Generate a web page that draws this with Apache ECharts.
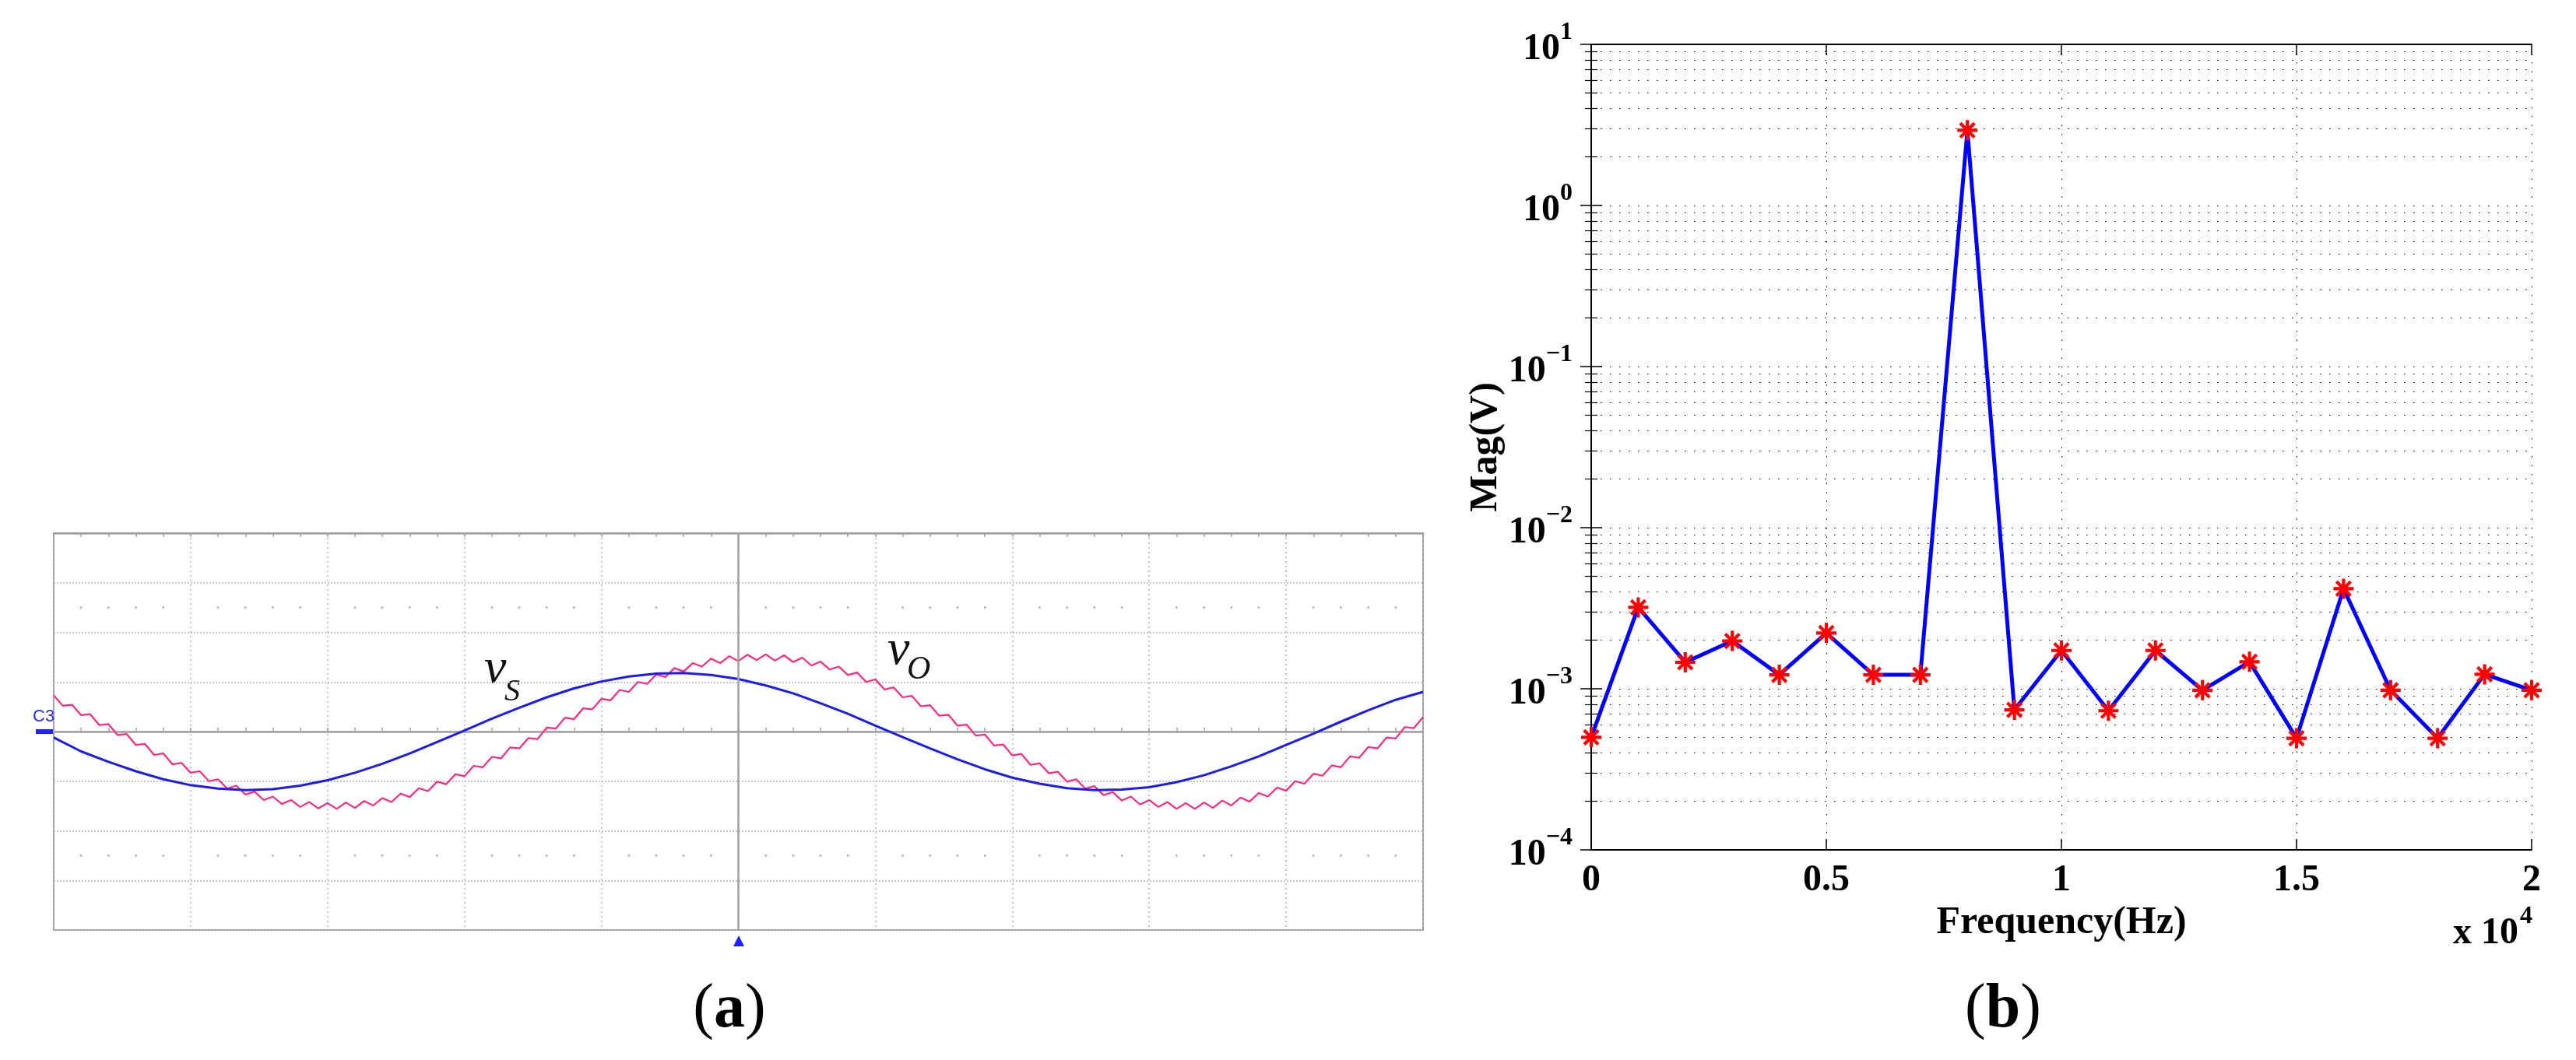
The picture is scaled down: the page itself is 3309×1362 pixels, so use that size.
<!DOCTYPE html>
<html>
<head>
<meta charset="utf-8">
<script src="https://cdn.jsdelivr.net/npm/echarts@6/dist/echarts.min.js"></script>
<style>
  html, body { margin: 0; padding: 0; background: #fff; }
  #main { width: 3309px; height: 1362px; }
</style>
</head>
<body>
<div id="main"></div>
<script>
// (a) oscilloscope traces, in divisions (time step in div)
const vsStep = 0.2;
const vsData = [-0.12,-0.40,-0.61,-0.80,-0.96,-1.08,-1.15,-1.18,-1.16,-1.09,-0.98,-0.83,-0.65,-0.44,-0.21,0.02,
  0.26,0.48,0.69,0.87,1.01,1.11,1.17,1.18,1.14,1.06,0.93,0.77,0.57,0.36,0.12,-0.11,-0.34,-0.56,-0.76,-0.93,
  -1.05,-1.14,-1.18,-1.17,-1.12,-1.02,-0.88,-0.70,-0.50,-0.27,-0.04,0.20,0.43,0.64,0.80];

const voStep = 1 / 15;
const voData = [0.73,0.52,0.54,0.33,0.35,0.13,0.15,-0.07,-0.05,-0.27,-0.25,-0.47,-0.44,-0.66,-0.63,-0.83,
  -0.80,-1.00,-0.96,-1.15,-1.09,-1.27,-1.21,-1.38,-1.31,-1.46,-1.38,-1.52,-1.42,-1.55,-1.44,-1.56,-1.43,-1.54,
  -1.40,-1.49,-1.34,-1.42,-1.25,-1.32,-1.14,-1.20,-1.01,-1.06,-0.86,-0.90,-0.69,-0.72,-0.51,-0.54,-0.32,-0.34,
  -0.13,-0.15,0.08,0.06,0.28,0.25,0.47,0.45,0.66,0.63,0.84,0.80,1.00,0.96,1.15,1.10,1.28,1.21,1.38,1.31,1.47,
  1.38,1.52,1.42,1.55,1.44,1.56,1.43,1.54,1.40,1.49,1.33,1.41,1.25,1.31,1.14,1.19,1.00,1.05,0.85,0.89,0.69,
  0.72,0.51,0.53,0.32,0.34,0.12,0.14,-0.08,-0.06,-0.28,-0.26,-0.48,-0.45,-0.67,-0.64,-0.84,-0.81,-1.01,-0.96,
  -1.15,-1.10,-1.28,-1.22,-1.39,-1.31,-1.47,-1.38,-1.52,-1.42,-1.56,-1.44,-1.56,-1.43,-1.54,-1.39,-1.49,-1.33,
  -1.41,-1.24,-1.31,-1.13,-1.19,-1.00,-1.05,-0.85,-0.89,-0.68,-0.72,-0.50,-0.53,-0.31,-0.34,-0.12,-0.14,0.09,
  0.07,0.29];

// (b) spectrum
const freqHz = [0,1000,2000,3000,4000,5000,6000,7000,8000,9000,10000,11000,12000,13000,14000,15000,16000,17000,18000,19000,20000];
const magV = [5.0e-4,3.2e-3,1.46e-3,1.98e-3,1.22e-3,2.22e-3,1.22e-3,1.22e-3,2.93,7.4e-4,1.73e-3,7.3e-4,1.73e-3,
  9.8e-4,1.47e-3,4.93e-4,4.18e-3,9.8e-4,4.93e-4,1.23e-3,9.8e-4];
const freqTicks = [0, 0.5, 1, 1.5, 2];

const serif = '"Liberation Serif", "Times New Roman", serif';
const scopeGray = '#a0a0a0';

const vsSeries = vsData.map((v, i) => [i * vsStep, v]);
const voSeries = voData.map((v, i) => [i * voStep, v]);

// graticule dots at +-2.5 div, every 0.2 div
const dots = [];
for (let i = 1; i < 50; i++) {
  if (i % 5 === 0) continue;
  dots.push([i * 0.2, 2.5], [i * 0.2, -2.5]);
}

// MATLAB style asterisk marker
const star = 'path://M42,0L58,0L58,100L42,100Z M0,42L100,42L100,58L0,58Z ' +
  'M20.66,9.34L90.66,79.34L79.34,90.66L9.34,20.66Z M79.34,9.34L90.66,20.66L20.66,90.66L9.34,79.34Z';

const chart = echarts.init(document.getElementById('main'));

const tickLabel = function (v) {
  const e = Math.round(Math.log10(v));
  return '{b|10}{s|' + (e < 0 ? '\u2212' + (-e) : e) + '}';
};

const logAxisBase = {
  type: 'log',
  logBase: 10,
  min: 1e-4,
  max: 10,
  gridIndex: 1,
  axisLine: { show: true, lineStyle: { color: '#000', width: 2 } },
  axisTick: { show: true, inside: true, length: 14, lineStyle: { color: '#000', width: 1.5 } },
  minorTick: { show: true, splitNumber: 9, length: 8, lineStyle: { color: '#000', width: 1.2 } }
};

chart.setOption({
  animation: false,
  backgroundColor: '#fff',
  grid: [
    { left: 69, top: 685, width: 1759, height: 510, show: true, borderColor: scopeGray, borderWidth: 2,
      containLabel: false, outerBoundsMode: 'none' },
    { left: 2044, top: 57, width: 1208, height: 1035, containLabel: false, outerBoundsMode: 'none' }
  ],
  xAxis: [
    { type: 'value', gridIndex: 0, min: 0, max: 10, interval: 1,
      axisLine: { show: false, onZero: false }, axisTick: { show: false }, axisLabel: { show: false },
      splitLine: { show: true, lineStyle: { color: '#b4b4b4', width: 1.5, type: [2, 4] } } },
    { type: 'value', gridIndex: 0, min: 0, max: 10, interval: 0.2, position: 'bottom',
      axisLine: { show: true, onZero: true, lineStyle: { color: scopeGray, width: 2.5 } },
      axisTick: { show: true, inside: true, length: 5, lineStyle: { color: scopeGray, width: 1.5 } },
      axisLabel: { show: false }, splitLine: { show: false } },
    { type: 'value', gridIndex: 0, min: 0, max: 10, interval: 0.2, position: 'top',
      axisLine: { show: true, onZero: true, lineStyle: { color: scopeGray, width: 2.5 } },
      axisTick: { show: true, inside: true, length: 5, lineStyle: { color: scopeGray, width: 1.5 } },
      axisLabel: { show: false }, splitLine: { show: false } },
    { type: 'value', gridIndex: 1, min: 0, max: 20000, interval: 5000, position: 'bottom',
      name: 'Frequency(Hz)', nameLocation: 'middle', nameGap: 62,
      nameTextStyle: { fontFamily: serif, fontWeight: 'bold', fontSize: 50, color: '#000' },
      axisLine: { show: true, onZero: false, lineStyle: { color: '#000', width: 2 } },
      axisTick: { show: true, inside: true, length: 14, lineStyle: { color: '#000', width: 1.5 } },
      axisLabel: { margin: 16, fontFamily: serif, fontWeight: 'bold', fontSize: 48, color: '#000',
        formatter: v => String(freqTicks[Math.round(v / 5000)]) },
      splitLine: { show: true, lineStyle: { color: '#000', width: 1, type: [1.5, 10] } } },
    { type: 'value', gridIndex: 1, min: 0, max: 20000, interval: 5000, position: 'top',
      axisLine: { show: true, onZero: false, lineStyle: { color: '#000', width: 2 } },
      axisTick: { show: true, inside: true, length: 14, lineStyle: { color: '#000', width: 1.5 } },
      axisLabel: { show: false }, splitLine: { show: false } }
  ],
  yAxis: [
    { type: 'value', gridIndex: 0, min: -4, max: 4, interval: 1,
      axisLine: { show: false, onZero: false }, axisTick: { show: false }, axisLabel: { show: false },
      splitLine: { show: true, lineStyle: { color: '#b4b4b4', width: 1.5, type: [2, 2] } } },
    Object.assign({}, logAxisBase, {
      position: 'left',
      name: 'Mag(V)', nameLocation: 'middle', nameGap: 100, nameRotate: 90,
      nameTextStyle: { fontFamily: serif, fontWeight: 'bold', fontSize: 50, color: '#000' },
      axisLabel: { margin: 24, formatter: tickLabel,
        rich: {
          b: { fontFamily: serif, fontWeight: 'bold', fontSize: 48, color: '#000', lineHeight: 62, verticalAlign: 'bottom' },
          s: { fontFamily: serif, fontWeight: 'bold', fontSize: 32, color: '#000', lineHeight: 32, verticalAlign: 'top' }
        } },
      splitLine: { show: true, lineStyle: { color: '#000', width: 1, type: [1.5, 10.5] } },
      minorSplitLine: { show: true, lineStyle: { color: '#000', width: 1, type: [1.5, 10.5] } }
    }),
    Object.assign({}, logAxisBase, {
      position: 'right',
      axisLabel: { show: false }, splitLine: { show: false }
    })
  ],
  series: [
    { type: 'scatter', xAxisIndex: 0, yAxisIndex: 0, data: dots, symbol: 'rect', symbolSize: 2.5,
      itemStyle: { color: '#9a9a9a' }, silent: true, z: 1 },
    { type: 'line', xAxisIndex: 0, yAxisIndex: 0, data: [], silent: true,
      markLine: { symbol: 'none', silent: true, label: { show: false },
        lineStyle: { color: scopeGray, width: 2.5, type: 'solid' }, data: [{ xAxis: 5 }] } },
    { name: 'vo', type: 'line', xAxisIndex: 0, yAxisIndex: 0, data: voSeries, showSymbol: false,
      lineStyle: { color: '#ff2a7f', width: 2.2 }, z: 3 },
    { name: 'vs', type: 'line', xAxisIndex: 0, yAxisIndex: 0, data: vsSeries, showSymbol: false,
      lineStyle: { color: '#1c1cf0', width: 3 }, z: 4 },
    { name: 'Mag', type: 'line', xAxisIndex: 3, yAxisIndex: 1,
      data: freqHz.map((f, i) => [f, magV[i]]),
      symbol: star, symbolSize: 26, showAllSymbol: true,
      lineStyle: { color: '#0000ff', width: 5 },
      itemStyle: { color: '#ff0000' }, z: 5 }
  ],
  graphic: [
    { type: 'text', left: 42, top: 910, style: { text: 'C3', fill: '#2a2aff',
        font: '22px "Liberation Sans Narrow", "Liberation Sans", sans-serif' } },
    { type: 'rect', shape: { x: 46, y: 937, width: 22, height: 6 }, style: { fill: '#2020ff' } },
    { type: 'polygon', shape: { points: [[942, 1216], [956, 1216], [949, 1202]] }, style: { fill: '#2020ff' } },
    { type: 'text', x: 622, y: 860, style: { text: 'v', fill: '#111', verticalAlign: 'middle',
        font: 'italic 64px ' + serif } },
    { type: 'text', x: 648, y: 889, style: { text: 'S', fill: '#111', verticalAlign: 'middle',
        font: 'italic 40px ' + serif } },
    { type: 'text', x: 1140, y: 836, style: { text: 'v', fill: '#111', verticalAlign: 'middle',
        font: 'italic 64px ' + serif } },
    { type: 'text', x: 1165, y: 861, style: { text: 'O', fill: '#111', verticalAlign: 'middle',
        font: 'italic 42px ' + serif } },
    { type: 'text', x: 937, y: 1298, style: { text: '{p|(}{l|a}{p|)}', align: 'center', verticalAlign: 'middle',
        rich: { p: { fontFamily: serif, fontSize: 80, fill: '#000' },
                l: { fontFamily: serif, fontSize: 80, fontWeight: 'bold', fill: '#000' } } } },
    { type: 'text', x: 2573, y: 1298, style: { text: '{p|(}{l|b}{p|)}', align: 'center', verticalAlign: 'middle',
        rich: { p: { fontFamily: serif, fontSize: 80, fill: '#000' },
                l: { fontFamily: serif, fontSize: 80, fontWeight: 'bold', fill: '#000' } } } },
    { type: 'text', x: 3235, y: 1200, style: { text: 'x 10', fill: '#000', align: 'right', verticalAlign: 'middle',
        font: 'bold 48px ' + serif } },
    { type: 'text', x: 3237, y: 1178, style: { text: '4', fill: '#000', align: 'left', verticalAlign: 'middle',
        font: 'bold 32px ' + serif } }
  ]
});
</script>
</body>
</html>
